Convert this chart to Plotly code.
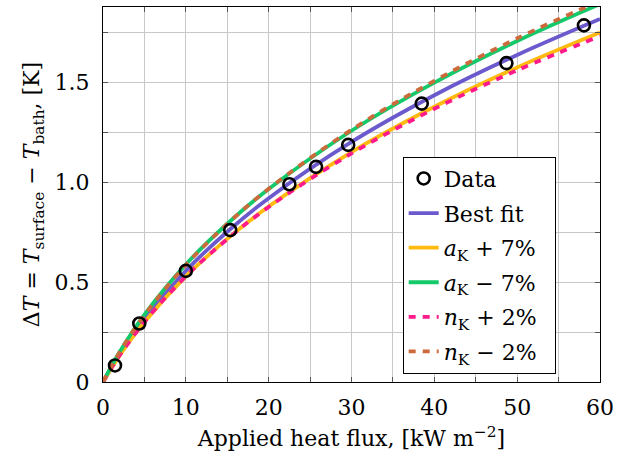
import plotly.graph_objects as go

# Measured data points
data_q = [1.45, 4.38, 10.0, 15.36, 22.5, 25.72, 29.6, 38.48, 48.7, 58.06]
data_dT = [0.083, 0.293, 0.557, 0.761, 0.991, 1.078, 1.188, 1.395, 1.598, 1.787]

# Curve samples
curve_q = [0, 2, 5, 10, 15, 20, 30, 40, 50, 60]
best_fit = [0.0, 0.141, 0.318, 0.557, 0.753, 0.921, 1.203, 1.437, 1.639, 1.819]
a_plus7 = [0.0, 0.132, 0.300, 0.529, 0.717, 0.879, 1.152, 1.379, 1.576, 1.751]
a_minus7 = [0.0, 0.150, 0.338, 0.589, 0.793, 0.967, 1.259, 1.500, 1.709, 1.894]
n_plus2 = [0.0, 0.133, 0.301, 0.529, 0.716, 0.877, 1.145, 1.369, 1.562, 1.733]
n_minus2 = [0.0, 0.149, 0.335, 0.586, 0.792, 0.968, 1.264, 1.509, 1.722, 1.910]

x_ticks = [0, 10, 20, 30, 40, 50, 60]
y_ticks = [0, 0.5, 1.0, 1.5]
y_tick_text = ["0", "0.5", "1.0", "1.5"]

FONT = "DejaVu Serif"
FS = 22

fig = go.Figure()

lines = [
    ("Best fit", best_fit, "#6A5ACD", "solid", 2),
    ("<i>a</i><sub>K</sub> + 7%", a_plus7, "#FFBA10", "solid", 3),
    ("<i>a</i><sub>K</sub> − 7%&nbsp;&nbsp;", a_minus7, "#14C96A", "solid", 4),
    ("<i>n</i><sub>K</sub> + 2%", n_plus2, "#FF1A8C", "7px,7px", 5),
    ("<i>n</i><sub>K</sub> − 2%", n_minus2, "#CD6A3C", "7px,7px", 6),
]
for name, ys, color, dash, rank in lines:
    fig.add_trace(go.Scatter(
        x=curve_q, y=ys, mode="lines", name=name,
        line=dict(color=color, width=3.8, dash=dash, shape="spline", smoothing=1.0),
        legendrank=rank, legendgroup=name,
    ))

fig.add_trace(go.Scatter(
    x=data_q, y=data_dT, mode="markers", name="Data",
    marker=dict(symbol="circle-open", size=12, color="black", line=dict(width=2.6, color="black")),
    legendrank=1, legendgroup="Data",
))

axis_common = dict(
    showline=True, linecolor="black", linewidth=1.2, mirror="ticks",
    ticks="inside", ticklen=5, tickcolor="#555555", tickwidth=1,
    showgrid=True, gridcolor="#C8C8C8", gridwidth=1,
    zeroline=False,
    tickfont=dict(family=FONT, size=FS, color="black"),
)

fig.update_xaxes(
    range=[0, 60], tickvals=x_ticks, ticklabelstandoff=5,
    minor=dict(dtick=5, showgrid=True, gridcolor="#C8C8C8", ticks="inside", ticklen=5, tickcolor="#555555"),
    title=dict(text="Applied heat flux, [kW m<sup>−2</sup>]", font=dict(family=FONT, size=FS, color="black"), standoff=12),
    **axis_common,
)
fig.update_yaxes(
    range=[0, 1.879], tickvals=y_ticks, ticktext=y_tick_text, ticklabelstandoff=8,
    minor=dict(dtick=0.25, showgrid=True, gridcolor="#C8C8C8", ticks="inside", ticklen=5, tickcolor="#555555"),
    title=dict(text="Δ<i>T</i> = <i>T</i><sub>surface</sub> − <i>T</i><sub>bath</sub>, [K]", font=dict(family=FONT, size=FS, color="black"), standoff=8),
    **axis_common,
)

fig.update_layout(
    width=632, height=458,
    margin=dict(l=103, r=32, t=7, b=76),
    paper_bgcolor="white", plot_bgcolor="white",
    font=dict(family=FONT, size=FS, color="black"),
    legend=dict(
        x=0.603, y=0.601, xanchor="left", yanchor="top",
        bgcolor="white", bordercolor="black", borderwidth=1,
        font=dict(family=FONT, size=FS, color="black"),
        traceorder="grouped", tracegroupgap=3,
    ),
    showlegend=True,
)

fig.write_html("out.html")
